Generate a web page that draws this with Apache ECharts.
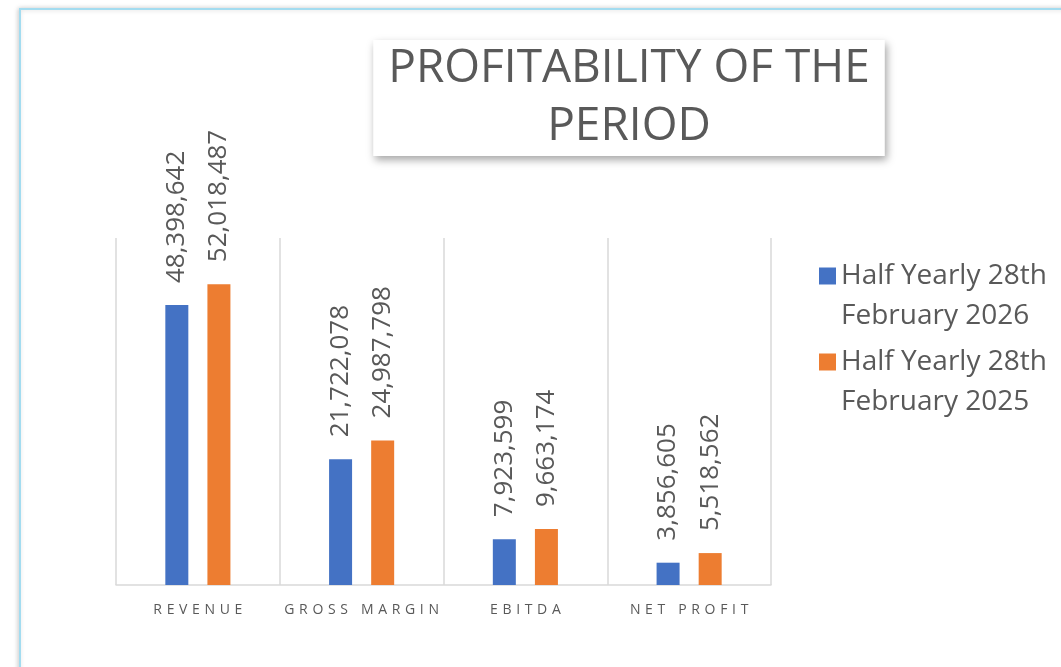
<!DOCTYPE html>
<html>
<head>
<meta charset="utf-8">
<script src="https://cdn.jsdelivr.net/npm/echarts@6/dist/echarts.min.js"></script>
<style>
  html, body { margin: 0; padding: 0; background: #fff; }
  #chart { width: 1061px; height: 667px; }
</style>
</head>
<body>
<div id="chart"></div>
<script>
// values
const categories = ['REVENUE', 'GROSS MARGIN', 'EBITDA', 'NET PROFIT'];
const seriesNames = ['Half Yearly 28th\nFebruary 2026', 'Half Yearly 28th\nFebruary 2025'];
const values2026 = [48398642, 21722078, 7923599, 3856605];
const values2025 = [52018487, 24987798, 9663174, 5518562];

const grey = '#595959';
const font = '"Open Sans", "Noto Sans", sans-serif';

// spread the letters of axis labels a little, like the original
const spread = s => s.split('').join('\u2004');

const barLabel = {
  show: true,
  position: 'top',
  rotate: 90,
  align: 'left',
  verticalAlign: 'middle',
  distance: 22,
  color: grey,
  fontSize: 26,
  fontFamily: font,
  formatter: p => p.value.toLocaleString('en-US')
};

const chart = echarts.init(document.getElementById('chart'));

chart.setOption({
  animation: false,
  graphic: [{
    type: 'rect',
    z: -10,
    shape: { x: 20, y: 9, width: 1200, height: 800 },
    style: {
      fill: '#fff',
      stroke: '#a3dcf0',
      lineWidth: 2,
      shadowBlur: 5,
      shadowColor: 'rgba(0,0,0,0.18)',
      shadowOffsetX: -1
    }
  }],
  title: {
    text: 'PROFITABILITY OF THE\nPERIOD',
    left: 614,
    top: 40,
    textAlign: 'center',
    padding: [0, 15],
    backgroundColor: '#fff',
    shadowBlur: 8,
    shadowColor: 'rgba(0,0,0,0.35)',
    shadowOffsetX: 2,
    shadowOffsetY: 4,
    textStyle: {
      color: grey,
      fontSize: 46,
      lineHeight: 58,
      fontWeight: 'normal',
      fontFamily: font
    }
  },
  // one legend per entry; the empty first line keeps the square beside the first text line
  legend: [0, 1].map(i => ({
    data: [seriesNames[i]],
    left: 814,
    top: i === 0 ? 211 : 297,
    orient: 'vertical',
    icon: 'rect',
    itemWidth: 17,
    itemHeight: 17,
    formatter: name => '\n' + name,
    textStyle: {
      color: grey,
      fontSize: 28,
      lineHeight: 40,
      fontFamily: font
    }
  })),
  grid: { left: 116, right: 290, top: 238, bottom: 82 },
  xAxis: {
    type: 'category',
    data: categories,
    axisLine: { lineStyle: { color: '#d9d9d9', width: 1.5 } },
    axisTick: { show: false },
    splitLine: { show: true, interval: 0, lineStyle: { color: '#d9d9d9', width: 1.5 } },
    axisLabel: {
      interval: 0,
      color: grey,
      fontSize: 14,
      fontFamily: font,
      margin: 18,
      formatter: spread
    }
  },
  yAxis: {
    type: 'value',
    min: 0,
    max: 60000000,
    show: false,
    splitLine: { show: false }
  },
  series: [
    {
      name: seriesNames[0],
      type: 'bar',
      data: values2026,
      barWidth: 23,
      barGap: '83%',
      itemStyle: { color: '#4472c4' },
      label: barLabel
    },
    {
      name: seriesNames[1],
      type: 'bar',
      data: values2025,
      barWidth: 23,
      barGap: '83%',
      itemStyle: { color: '#ed7d31' },
      label: barLabel
    }
  ]
});
</script>
</body>
</html>
